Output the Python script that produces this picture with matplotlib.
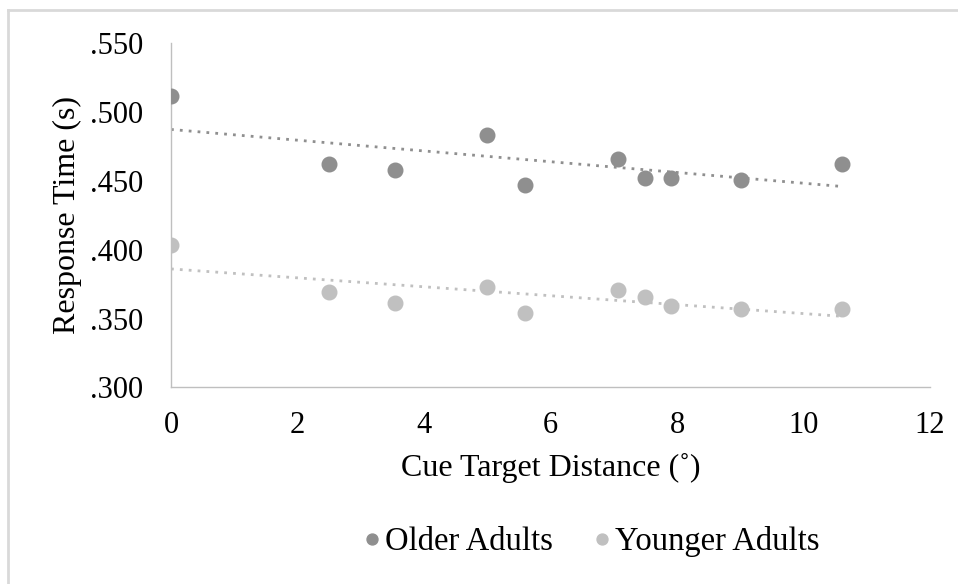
import numpy as np
import matplotlib
matplotlib.use("Agg")
import matplotlib.pyplot as plt
from matplotlib.lines import Line2D
from matplotlib.ticker import FuncFormatter

plt.rcParams['font.family'] = ['Liberation Serif', 'DejaVu Serif']

# cue target distances (deg)
distance = [0, 2.5, 3.54, 5.0, 5.59, 7.07, 7.5, 7.91, 9.01, 10.61]
older_rt = [.5115, .462, .458, .483, .447, .466, .452, .452, .451, .462]
younger_rt = [.4035, .369, .361, .373, .354, .371, .366, .359, .357, .357]

older_col = '#8f8f8f'
younger_col = '#c0c0c0'

fig = plt.figure(figsize=(9.58, 5.84), dpi=100)
ax = fig.add_axes([0.1785, 0.3365, 0.7923, 0.5895])

x = np.array(distance)
for vals, col, name in [(older_rt, older_col, 'Older Adults'),
                        (younger_rt, younger_col, 'Younger Adults')]:
    ax.plot(x, vals, 'o', color=col, ms=10.5, label=name, zorder=3)
    # linear trendline
    m, b = np.polyfit(x, vals, 1)
    xs = np.array([x.min(), x.max()])
    ax.plot(xs, m * xs + b, color=col, lw=2, ls=(0, (1, 2.2)), zorder=2)

ax.set_xlim(0, 12)
ax.set_ylim(0.300, 0.550)
ax.set_xticks(range(0, 13, 2))
ax.set_yticks(np.arange(0.300, 0.551, 0.05))
ax.yaxis.set_major_formatter(FuncFormatter(lambda v, p: ('%.3f' % v).lstrip('0')))
ax.tick_params(length=0, labelsize=22)
ax.tick_params(axis='y', pad=20)
ax.tick_params(axis='x', pad=17)

for s in ['top', 'right']:
    ax.spines[s].set_visible(False)
for s in ['left', 'bottom']:
    ax.spines[s].set_color('#bfbfbf')
    ax.spines[s].set_linewidth(1)

ax.set_xlabel('Cue Target Distance (˚)', fontsize=23, labelpad=9)
ax.set_ylabel('Response Time (s)', fontsize=23, labelpad=6)

fig.legend(loc='center', bbox_to_anchor=(0.617, 0.0720), ncol=2, frameon=False,
           fontsize=23.5, markerscale=0.75, handlelength=0.6, handletextpad=0.1,
           columnspacing=1.2)

# outer chart border (top and left visible)
fig.add_artist(Line2D([8 / 958, 1.0], [1 - 10 / 584, 1 - 10 / 584],
                      color='#d9d9d9', lw=2, transform=fig.transFigure))
fig.add_artist(Line2D([8 / 958, 8 / 958], [0, 1 - 10 / 584],
                      color='#d9d9d9', lw=2, transform=fig.transFigure))

fig.savefig('out.png', dpi=100)
